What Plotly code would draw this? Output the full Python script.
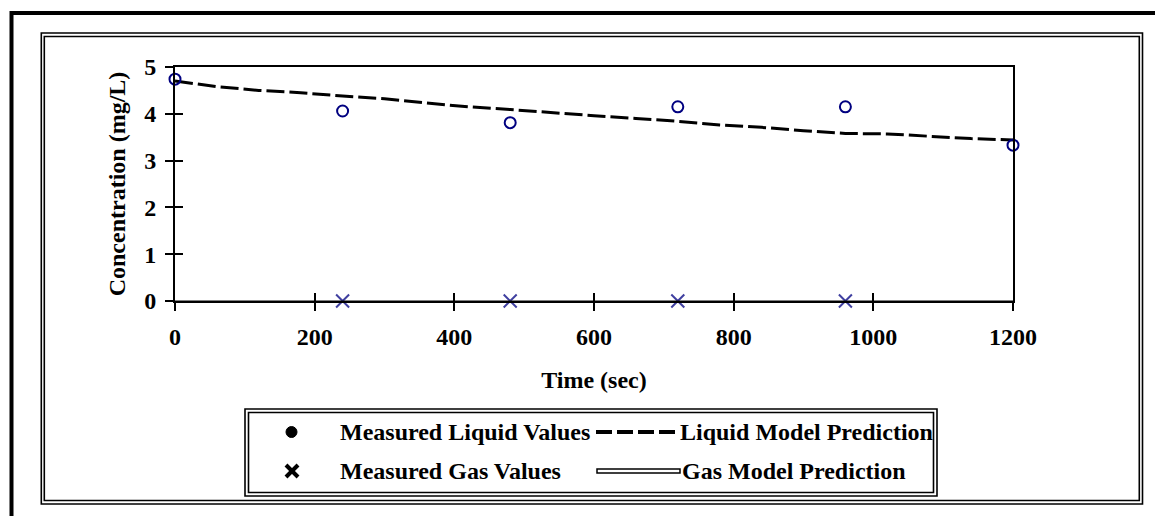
import plotly.graph_objects as go

# ---------------- data ----------------
time_measured = [0, 240, 480, 720, 960, 1200]
liquid_measured = [4.74, 4.06, 3.81, 4.15, 4.15, 3.33]

time_gas = [240, 480, 720, 960]
gas_measured = [0, 0, 0, 0]

time_model = [0, 60, 120, 180, 240, 300, 360, 420, 480, 540, 600,
              660, 720, 780, 840, 900, 960, 1020, 1080, 1140, 1200]
liquid_model = [4.70, 4.58, 4.50, 4.45, 4.38, 4.32, 4.23, 4.15, 4.09, 4.02, 3.96,
                3.90, 3.84, 3.76, 3.71, 3.64, 3.58, 3.57, 3.52, 3.47, 3.44]
gas_model = [0] * len(time_model)

x_ticks = [0, 200, 400, 600, 800, 1000, 1200]
y_ticks = [0, 1, 2, 3, 4, 5]

legend_labels = ["Measured Liquid Values", "Liquid Model Prediction",
                 "Measured Gas Values", "Gas Model Prediction"]
x_title = "Time (sec)"
y_title = "Concentration (mg/L)"

# ---------------- layout helpers ----------------
# the page body has an 8px margin, so the figure starts at (8, 8) on screen
OFF = 8
W, H = 1163 - OFF, 516 - OFF
FONT = "Liberation Serif, Times New Roman, serif"


def px(x):
    """screen pixel x -> paper coordinate"""
    return (x - OFF) / W


def py(y):
    """screen pixel y -> paper coordinate"""
    return 1 - (y - OFF) / H


fig = go.Figure()

fig.add_trace(go.Scatter(
    x=time_model, y=liquid_model, mode="lines", name=legend_labels[1],
    line=dict(color="black", width=3, dash="18px,5px"), showlegend=False,
    cliponaxis=False))
fig.add_trace(go.Scatter(
    x=time_model, y=gas_model, mode="lines", name=legend_labels[3],
    line=dict(color="black", width=1), showlegend=False,
    xaxis="x2", yaxis="y2"))
fig.add_trace(go.Scatter(
    x=time_measured, y=liquid_measured, mode="markers", name=legend_labels[0],
    marker=dict(symbol="circle-open", size=11, color="#000080",
                line=dict(width=2, color="#000080")),
    showlegend=False, cliponaxis=False))
fig.add_trace(go.Scatter(
    x=time_gas, y=gas_measured, mode="markers", name=legend_labels[2],
    marker=dict(symbol="x-thin-open", size=13, color="#4040a0",
                line=dict(width=2, color="#4040a0")),
    showlegend=False, cliponaxis=False))

tickfont = dict(family=FONT, size=24, color="black", weight="bold")
common = dict(showgrid=False, zeroline=False, automargin=False)

fig.update_layout(
    width=W, height=H, autosize=False,
    margin=dict(l=0, r=0, t=0, b=0, pad=0),
    paper_bgcolor="white", plot_bgcolor="white",
    showlegend=False,
    xaxis=dict(domain=[px(175), px(1013)], range=[0, 1200],
               tickvals=x_ticks, ticktext=[str(v) for v in x_ticks],
               ticks="outside", ticklen=8, tickwidth=2, tickcolor="black",
               showline=True, linewidth=2, linecolor="black", mirror=True,
               tickfont=tickfont, ticklabelstandoff=5,
               title=dict(text=x_title, font=tickfont, standoff=22),
               anchor="y", **common),
    yaxis=dict(domain=[py(301), py(67)], range=[0, 5],
               tickvals=y_ticks, ticktext=[str(v) for v in y_ticks],
               ticks="outside", ticklen=8, tickwidth=2, tickcolor="black",
               showline=True, linewidth=2, linecolor="black", mirror=True,
               tickfont=tickfont, ticklabelstandoff=4,
               title=dict(text=y_title, font=tickfont, standoff=12),
               anchor="x", **common),
    xaxis2=dict(overlaying="x", anchor="y2", range=[0, 1200], tickvals=x_ticks,
                ticks="inside", ticklen=8, tickwidth=2, tickcolor="black",
                showticklabels=False, showline=False, **common),
    yaxis2=dict(overlaying="y", anchor="x2", range=[0, 5], tickvals=y_ticks,
                ticks="inside", ticklen=8, tickwidth=2, tickcolor="black",
                showticklabels=False, showline=False, **common),
)

shapes = []
# outer thick border (extends past right/bottom edges)
shapes.append(dict(type="rect", xref="paper", yref="paper",
                   x0=px(11.5), x1=px(1185), y0=py(13), y1=py(540),
                   line=dict(color="black", width=4)))
# double frame around chart
for (x0, y0, x1, y1) in [(41.3, 33, 1142.5, 504), (44.3, 36.5, 1139.3, 500.5)]:
    shapes.append(dict(type="rect", xref="paper", yref="paper",
                       x0=px(x0), x1=px(x1), y0=py(y0), y1=py(y1),
                       line=dict(color="black", width=1.6)))
# double frame around legend
for (x0, y0, x1, y1) in [(245, 409, 937, 496), (248.5, 412.5, 933.5, 492.5)]:
    shapes.append(dict(type="rect", xref="paper", yref="paper",
                       x0=px(x0), x1=px(x1), y0=py(y0), y1=py(y1),
                       line=dict(color="black", width=1.6)))
# legend symbols
row1, row2 = 432, 471
shapes.append(dict(type="circle", xref="paper", yref="paper",
                   x0=px(286), x1=px(297), y0=py(row1 - 5.5), y1=py(row1 + 5.5),
                   fillcolor="black", line=dict(color="black", width=1)))
shapes.append(dict(type="line", xref="paper", yref="paper",
                   x0=px(596), x1=px(678), y0=py(row1), y1=py(row1),
                   line=dict(color="black", width=4, dash="16px,5px")))
shapes.append(dict(type="line", xref="paper", yref="paper",
                   x0=px(286), x1=px(298), y0=py(row2 - 6), y1=py(row2 + 6),
                   line=dict(color="black", width=4)))
shapes.append(dict(type="line", xref="paper", yref="paper",
                   x0=px(286), x1=px(298), y0=py(row2 + 6), y1=py(row2 - 6),
                   line=dict(color="black", width=4)))
shapes.append(dict(type="rect", xref="paper", yref="paper",
                   x0=px(597), x1=px(680), y0=py(row2 - 2), y1=py(row2 + 2),
                   fillcolor="white", line=dict(color="black", width=1.5)))
fig.update_layout(shapes=shapes)

legfont = dict(family=FONT, size=24, color="black", weight="bold")
annotations = [
    dict(text=legend_labels[0], x=px(338), y=py(row1)),
    dict(text=legend_labels[1], x=px(678), y=py(row1)),
    dict(text=legend_labels[2], x=px(338), y=py(row2)),
    dict(text=legend_labels[3], x=px(680), y=py(row2)),
]
for a in annotations:
    a.update(xref="paper", yref="paper", xanchor="left", yanchor="middle",
             showarrow=False, font=legfont)
fig.update_layout(annotations=annotations)

fig.write_html("out.html")
